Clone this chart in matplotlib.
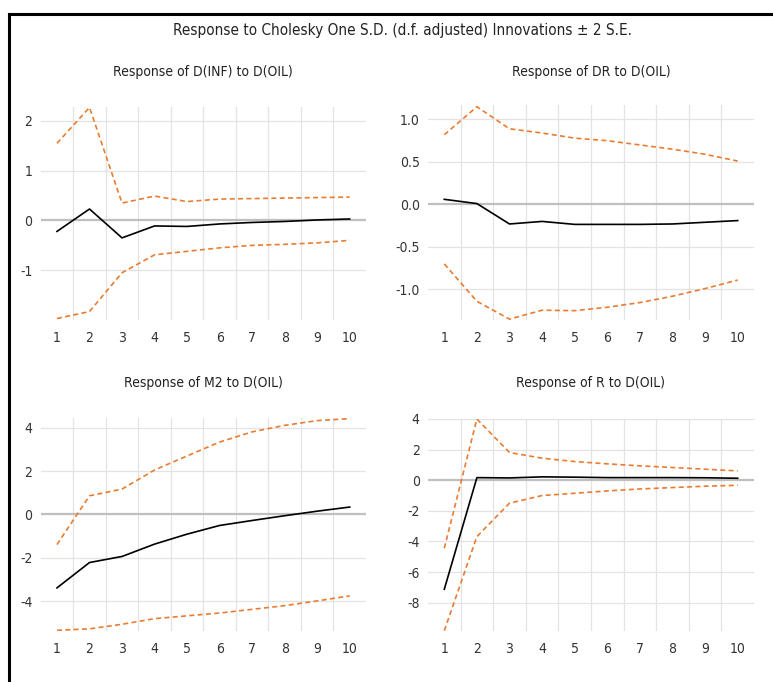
import matplotlib.pyplot as plt
from matplotlib.lines import Line2D
import numpy as np

plt.rcParams['font.family'] = ['DejaVu Sans']
plt.rcParams['font.stretch'] = 'condensed'

periods = list(range(1, 11))

inf_resp = [-0.22, 0.23, -0.35, -0.11, -0.12, -0.07, -0.04, -0.02, 0.01, 0.03]
inf_up = [1.55, 2.27, 0.35, 0.49, 0.38, 0.43, 0.44, 0.45, 0.46, 0.47]
inf_lo = [-1.97, -1.83, -1.05, -0.69, -0.62, -0.55, -0.50, -0.48, -0.45, -0.40]

dr_resp = [0.06, 0.01, -0.23, -0.20, -0.235, -0.235, -0.235, -0.23, -0.21, -0.19]
dr_up = [0.82, 1.15, 0.89, 0.84, 0.78, 0.75, 0.70, 0.65, 0.59, 0.51]
dr_lo = [-0.70, -1.14, -1.35, -1.245, -1.25, -1.21, -1.155, -1.08, -0.99, -0.89]

m2_resp = [-3.39, -2.22, -1.94, -1.37, -0.91, -0.51, -0.28, -0.06, 0.15, 0.34]
m2_up = [-1.39, 0.86, 1.17, 2.05, 2.70, 3.34, 3.81, 4.11, 4.33, 4.42]
m2_lo = [-5.35, -5.28, -5.07, -4.81, -4.68, -4.55, -4.38, -4.21, -3.99, -3.76]

r_resp = [-7.12, 0.17, 0.15, 0.22, 0.20, 0.17, 0.17, 0.17, 0.16, 0.13]
r_up = [-4.44, 4.00, 1.81, 1.44, 1.22, 1.07, 0.94, 0.83, 0.72, 0.61]
r_lo = [-9.83, -3.68, -1.50, -1.00, -0.85, -0.70, -0.57, -0.48, -0.39, -0.33]

panels = [
    ('Response of D(INF) to D(OIL)', inf_resp, inf_up, inf_lo,
     [-1, 0, 1, 2], ['-1', '0', '1', '2'], (-2.0, 2.28)),
    ('Response of DR to D(OIL)', dr_resp, dr_up, dr_lo,
     [-1.0, -0.5, 0.0, 0.5, 1.0], ['-1.0', '-0.5', '0.0', '0.5', '1.0'], (-1.36, 1.17)),
    ('Response of M2 to D(OIL)', m2_resp, m2_up, m2_lo,
     [-4, -2, 0, 2, 4], ['-4', '-2', '0', '2', '4'], (-5.38, 4.45)),
    ('Response of R to D(OIL)', r_resp, r_up, r_lo,
     [-8, -6, -4, -2, 0, 2, 4], ['-8', '-6', '-4', '-2', '0', '2', '4'], (-9.85, 4.0)),
]

W, H = 773, 682
fig = plt.figure(figsize=(W / 100, H / 100), dpi=100)

# axes boxes in pixels: left, top, right, bottom
boxes = [(40.7, 107, 366, 320), (428, 105, 754, 320),
         (40.7, 418, 366, 631), (428, 419, 754, 631)]
title_y = [72, 72, 383, 383]

orange = '#E97C30'
for (title, resp, up, lo, yt, ytl, ylim), (l, t, r, b), ty in zip(panels, boxes, title_y):
    ax = fig.add_axes([l / W, (H - b) / H, (r - l) / W, (b - t) / H])
    for x in np.arange(1.5, 10, 1.0):
        ax.axvline(x, color='#e3e3e3', lw=0.9, zorder=0)
    for y in yt:
        if y != 0:
            ax.axhline(y, color='#e3e3e3', lw=0.9, zorder=0)
    ax.axhline(0, color='#bfbfbf', lw=1.6, zorder=1)
    ax.plot(periods, up, color=orange, lw=1.2, ls=(0, (3, 2)), zorder=2)
    ax.plot(periods, lo, color=orange, lw=1.2, ls=(0, (3, 2)), zorder=2)
    ax.plot(periods, resp, color='black', lw=1.2, zorder=3)
    ax.set_xlim(0.5, 10.5)
    ax.set_ylim(*ylim)
    ax.set_xticks(periods)
    ax.set_xticklabels([str(p) for p in periods])
    ax.set_yticks(yt)
    ax.set_yticklabels(ytl)
    ax.tick_params(length=0, labelsize=10, colors='#333333', pad=6)
    ax.tick_params(axis='x', pad=8)
    for s in ax.spines.values():
        s.set_visible(False)
    fig.text((l + r) / 2 / W, 1 - ty / H, title, ha='center', va='center',
             fontsize=10, color='#222222')

fig.text(402 / W, 1 - 30 / H,
         'Response to Cholesky One S.D. (d.f. adjusted) Innovations \u00b1 2 S.E.',
         ha='center', va='center', fontsize=11, color='#222222')

# outer chart border (left and top edges visible)
fig.add_artist(Line2D([9 / W, 9 / W], [0, 1 - 14 / H], color='black', lw=2.2))
fig.add_artist(Line2D([9 / W, 1], [1 - 14 / H, 1 - 14 / H], color='black', lw=2.2))

fig.savefig('out.png', dpi=100)
